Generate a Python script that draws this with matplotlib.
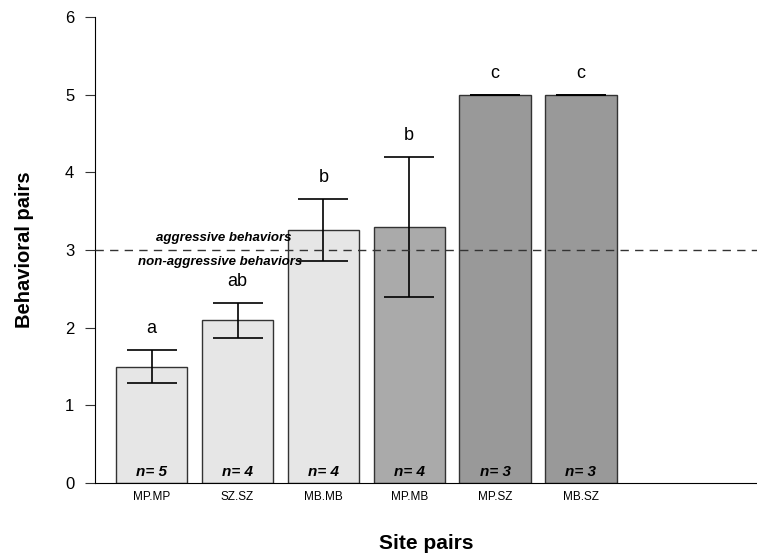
import numpy as np
import matplotlib.pyplot as plt

plt.rcParams["font.family"] = ["Liberation Sans", "DejaVu Sans"]

sites = ["MP.MP", "SZ.SZ", "MB.MB", "MP.MB", "MP.SZ", "MB.SZ"]
means = [1.5, 2.1, 3.26, 3.3, 5.0, 5.0]
err_lo = [1.29, 1.87, 2.86, 2.4, 5.0, 5.0]
err_hi = [1.71, 2.32, 3.66, 4.2, 5.0, 5.0]
letters = ["a", "ab", "b", "b", "c", "c"]
n_obs = [5, 4, 4, 4, 3, 3]
colors = ["#e6e6e6", "#e6e6e6", "#e6e6e6", "#aaaaaa", "#999999", "#999999"]

fig = plt.figure(figsize=(7.57, 5.54), dpi=100)
ax = fig.add_axes([0.1255, 0.128, 0.8745, 0.841])

x = np.arange(len(sites))
means = np.array(means)
lo = means - np.array(err_lo)
hi = np.array(err_hi) - means

ax.bar(x, means, width=0.83, color=colors, edgecolor="#333333", linewidth=1.0, zorder=2)
ax.errorbar(x, means, yerr=[lo, hi], fmt="none", ecolor="black", elinewidth=1.2,
            capsize=18, capthick=1.2, zorder=3)

for xi, top, lab in zip(x, err_hi, letters):
    ax.text(xi, top + 0.17, lab, ha="center", va="bottom", fontsize=13)
for xi, n in zip(x, n_obs):
    ax.text(xi, 0.05, "n= %d" % n, ha="center", va="bottom", fontsize=11,
            fontweight="bold", fontstyle="italic")

ax.axhline(3, color="#333333", linestyle=(0, (6, 4.5)), linewidth=1.0, zorder=4)
ax.text(0.84, 3.08, "aggressive behaviors", ha="center", va="bottom", fontsize=9.5,
        fontweight="bold", fontstyle="italic")
ax.text(0.80, 2.93, "non-aggressive behaviors", ha="center", va="top", fontsize=9.5,
        fontweight="bold", fontstyle="italic")

ax.set_xlim(-0.66, 7.05)
ax.set_ylim(0, 6)
ax.set_xticks(x)
ax.set_xticklabels(sites, fontsize=8.5, family=["Liberation Sans Narrow", "Liberation Sans"])
ax.tick_params(axis="x", length=0, pad=6)
ax.set_yticks(range(7))
ax.tick_params(axis="y", labelsize=12, length=7, pad=8, color="#333333")
ax.spines["top"].set_visible(False)
ax.spines["right"].set_visible(False)
ax.set_xlabel("Site pairs", fontsize=15, fontweight="bold", labelpad=22)
ax.set_ylabel("Behavioral pairs", fontsize=14.5, fontweight="bold", labelpad=22)

fig.savefig("out.png", dpi=100)
